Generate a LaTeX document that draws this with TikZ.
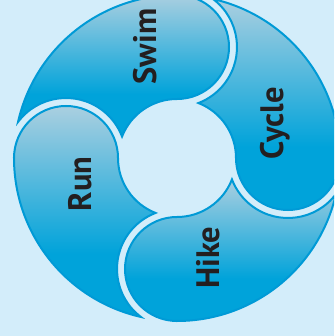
\documentclass[tikz,border=0pt]{standalone}
\usepackage{fontspec}
\newfontfamily\lblfont{PT Sans}
\definecolor{bgc}{HTML}{D3EDFA}
\definecolor{pdark}{HTML}{00A3DA}
\definecolor{plight}{HTML}{AACFE0}
\definecolor{pline}{HTML}{009AD6}
\definecolor{txt}{HTML}{231F20}
\pgfdeclareverticalshading{piecesh}{100bp}{color(0bp)=(pdark); color(25bp)=(pdark); color(40bp)=(pdark); color(75bp)=(plight); color(100bp)=(plight)}
\tikzset{
  piece/.style={draw=pline, line width=2pt, shade, shading=piecesh},
  lbl/.style={font=\lblfont\bfseries\fontsize{32.5}{32.5}\selectfont, text=txt, rotate=90, anchor=base, inner sep=0pt}
}
\newcommand\ringpiece[1]{%
  \path[piece] (#1:163) arc[start angle=#1, end angle=#1+77.22, radius=163]
    arc[start angle=#1+90-36.93, end angle=#1+90-159.06, radius=60]
    arc[start angle=#1+90-21.32, end angle=#1, radius=59]
    arc[start angle=#1+180, end angle=#1+360, radius=52] -- cycle;
}
\begin{document}
\begin{tikzpicture}[x=1pt,y=1pt]
\useasboundingbox (-177,-178) rectangle (157,158);
\clip (-177,-178) rectangle (157,158);
\fill[bgc] (-177,-178) rectangle (157,158);
\ringpiece{0}
\ringpiece{90}
\ringpiece{180}
\ringpiece{270}
\node[lbl] (swim) at (-21,111.5) {Swim};
\node[lbl] (cycle) at (106,34.7) {Cycle};
\node[lbl] (run) at (-86,-25.7) {Run};
\node[lbl] (hike) at (42.3,-99.5) {Hike};
\end{tikzpicture}
\end{document}
